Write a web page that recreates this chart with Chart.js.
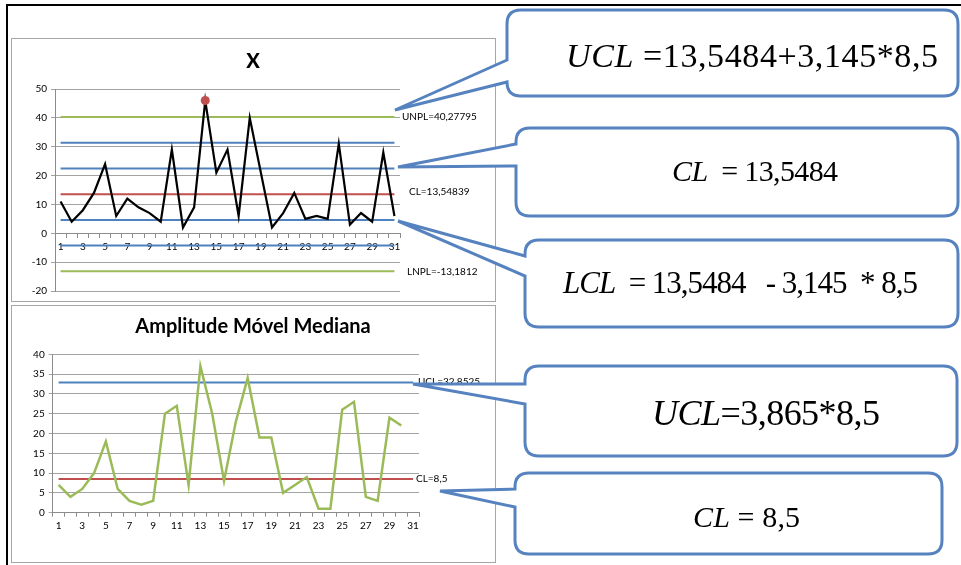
<!DOCTYPE html>
<html><head><meta charset="utf-8">
<script src="https://cdn.jsdelivr.net/npm/chart.js@4.4.0/dist/chart.umd.min.js"></script>
<style>
html,body{margin:0;padding:0;background:#fff;}
#page{position:relative;width:961px;height:565px;overflow:hidden;background:#fff;}
.box{position:absolute;border:1px solid #a6a6a6;background:#fff;box-sizing:border-box;}
.cv{position:absolute;}
#ov{position:absolute;left:0;top:0;pointer-events:none;}
#ov text, #ov tspan{font-family:'Liberation Serif','Times New Roman',serif;}
</style></head><body>
<div id="page">
  <div style="position:absolute;left:6px;top:4px;width:2px;height:561px;background:#000"></div>
  <div style="position:absolute;left:6px;top:4px;width:955px;height:2px;background:#000"></div>
  <div class="box" style="left:11px;top:38px;width:485px;height:264px"></div>
  <div class="box" style="left:11px;top:305px;width:485px;height:258px"></div>
  <canvas id="c1" class="cv" width="484" height="263" style="left:11px;top:38px"></canvas>
  <canvas id="c2" class="cv" width="484" height="255" style="left:11px;top:305px"></canvas>
  <svg id="ov" width="961" height="565"></svg>
</div>
<script>
// ---- data ----
const categories = ['1','2','3','4','5','6','7','8','9','10','11','12','13','14','15','16','17','18','19','20','21','22','23','24','25','26','27','28','29','30','31'];
const xValues  = [11,4,8,14,24,6,12,9,7,4,29,2,9,46,21,29,6,40,21,2,7,14,5,6,5,31,3,7,4,28,6];
const mrValues = [7,4,6,10,18,6,3,2,3,25,27,7,37,25,8,23,34,19,19,5,7,9,1,1,26,28,4,3,24,22,null];
const xOutOfControl = [13];
const xLimitValues = [40.27795, 13.54839, -13.1812];
const xLimitLabels = ['UNPL=40,27795', 'CL=13,54839', 'LNPL=-13,1812'];
const xZoneValues = [31.37, 22.46, 4.64, -4.27];
const mrLimitValues = [32.8525, 8.5];
const mrLimitLabels = ['UCL=32,8525', 'CL=8,5'];
const xTicksY = [-20, 50, 10];
const mrTicksY = [0, 40, 5];

const BLUE='#4F81BD', GREEN='#9BBB59', RED='#C0504D', GRID='#a3a3a3', AXIS='#8c8c8c';
const FONT='Lato';
const flat = v => categories.map(() => v);

const rightLabels = {
  id:'rightLabels',
  afterDatasetsDraw(chart, args, opts){
    const ctx = chart.ctx, ys = chart.scales.y;
    ctx.save();
    ctx.font = '10px ' + FONT;
    ctx.fillStyle = '#000';
    ctx.textBaseline = 'middle';
    ctx.textAlign = 'left';
    (opts.items||[]).forEach(it => {
      ctx.fillText(it.text, chart.chartArea.right + it.dx, ys.getPixelForValue(it.value) + it.dy);
    });
    ctx.restore();
  }
};

function lineDs(values, color){
  return {data: flat(values), borderColor: color, borderWidth: 2, pointRadius: 0, tension: 0, fill:false};
}
function xScale(opts){
  return Object.assign({
    type:'category', offset:true,
    grid:{offset:true, drawOnChartArea:false, drawTicks:true, tickLength:4, color:AXIS},
    border:{color:AXIS},
    ticks:{autoSkip:false, maxRotation:0, padding:3, color:'#000', font:{family:FONT, size:10},
      callback:(v,i)=> i%2===0 ? categories[i] : ''}
  }, opts);
}
function spacer(w){
  return {position:'right', display:true, min:0, max:1,
    grid:{display:false, drawTicks:false}, border:{display:false}, ticks:{display:false},
    afterFit:s=>{s.width=w;}};
}

// ---- Chart X ----
new Chart(document.getElementById('c1'), {
  type:'line',
  data:{labels:categories, datasets:[
    {data:xValues, borderColor:'#000', borderWidth:2.2, tension:0,
     pointRadius: c => xOutOfControl.includes(c.dataIndex) ? 4.5 : 0,
     pointBackgroundColor: RED, pointBorderColor: RED, pointBorderWidth:0},
    lineDs(xLimitValues[0], GREEN),
    lineDs(xZoneValues[0], BLUE),
    lineDs(xZoneValues[1], BLUE),
    lineDs(xLimitValues[1], RED),
    lineDs(xZoneValues[2], BLUE),
    lineDs(xZoneValues[3], BLUE),
    lineDs(xLimitValues[2], GREEN)
  ]},
  options:{
    responsive:false, animation:false, devicePixelRatio:1,
    layout:{padding:0},
    plugins:{
      legend:{display:false}, tooltip:{enabled:false},
      title:{display:true, text:'X', color:'#000', font:{family:FONT, size:20, weight:'900'}, padding:{top:12, bottom:15}},
      rightLabels:{items:[
        {text:xLimitLabels[0], value:xLimitValues[0], dx:2, dy:0},
        {text:xLimitLabels[1], value:xLimitValues[1], dx:9, dy:-2},
        {text:xLimitLabels[2], value:xLimitValues[2], dx:7, dy:0}
      ]}
    },
    scales:{
      x: xScale({position:{y:0}, afterFit:s=>{s.height=13;}}),
      y:{min:xTicksY[0], max:xTicksY[1],
         ticks:{stepSize:xTicksY[2], color:'#000', padding:4, font:{family:FONT, size:10}},
         grid:{color:GRID, tickLength:4}, border:{color:AXIS},
         afterFit:s=>{s.width=44;}},
      yr: spacer(95)
    }
  },
  plugins:[rightLabels]
});

// ---- Chart MR ----
new Chart(document.getElementById('c2'), {
  type:'line',
  data:{labels:categories, datasets:[
    {data:mrValues, borderColor:GREEN, borderWidth:2.5, tension:0, pointRadius:0, spanGaps:false},
    lineDs(mrLimitValues[0], BLUE),
    lineDs(mrLimitValues[1], RED)
  ]},
  options:{
    responsive:false, animation:false, devicePixelRatio:1,
    layout:{padding:0},
    plugins:{
      legend:{display:false}, tooltip:{enabled:false},
      title:{display:true, text:'Amplitude Móvel Mediana', color:'#000', font:{family:FONT, size:20, weight:'bold'}, padding:{top:10, bottom:15.3}},
      rightLabels:{items:[
        {text:mrLimitLabels[0], value:mrLimitValues[0], dx:-1, dy:-1},
        {text:mrLimitLabels[1], value:mrLimitValues[1], dx:-3, dy:0}
      ]}
    },
    scales:{
      x: xScale({position:'bottom', afterFit:s=>{s.height=47.3;}}),
      y:{min:mrTicksY[0], max:mrTicksY[1],
         ticks:{stepSize:mrTicksY[2], color:'#000', padding:4, font:{family:FONT, size:10}},
         grid:{color:GRID, tickLength:4}, border:{color:AXIS},
         afterFit:s=>{s.width=41.7;}},
      yr: spacer(76)
    }
  },
  plugins:[rightLabels]
});

// ---- callouts (annotation shapes) ----
const callouts = [
  {L:507,T:10,R:958,B:96, g1:60,g2:82, tx:395,ty:110},
  {L:516,T:128,R:958,B:216, g1:144,g2:166, tx:398,ty:167},
  {L:525,T:240,R:958,B:327, g1:256,g2:276, tx:398,ty:221},
  {L:525,T:366,R:957,B:456, g1:384,g2:404, tx:413,ty:384},
  {L:515,T:473,R:942,B:554, g1:489,g2:507, tx:440,ty:491}
];
const texts = [
  {x:566, y:67,  len:372, size:34, it:'UCL', rest:' =13,5484+3,145*8,5'},
  {x:672, y:181, len:166, size:30, it:'CL',  rest:'  = 13,5484'},
  {x:563, y:293, len:355, size:31, it:'LCL', rest:'  = 13,5484   - 3,145  * 8,5'},
  {x:652, y:425, len:228, size:36, it:'UCL', rest:'=3,865*8,5'},
  {x:693, y:527, len:107, size:30, it:'CL',  rest:' = 8,5'}
];
function path(c){
  const r=14, {L,T,R,B}=c;
  return `M${L},${c.g1} L${c.tx},${c.ty} L${L},${c.g2} L${L},${B-r} Q${L},${B} ${L+r},${B} L${R-r},${B} Q${R},${B} ${R},${B-r} L${R},${T+r} Q${R},${T} ${R-r},${T} L${L+r},${T} Q${L},${T} ${L},${T+r} Z`;
}
let svg = '';
callouts.forEach(c => { svg += `<path d="${path(c)}" fill="#fff" stroke="#5683bf" stroke-width="3" stroke-linejoin="miter"/>`; });
texts.forEach(t => {
  svg += `<text x="${t.x}" y="${t.y}" textLength="${t.len}" lengthAdjust="spacing" font-size="${t.size}" fill="#000" xml:space="preserve"><tspan font-style="italic">${t.it}</tspan><tspan font-style="normal">${t.rest}</tspan></text>`;
});
document.getElementById('ov').innerHTML = svg;
</script>
</body></html>
